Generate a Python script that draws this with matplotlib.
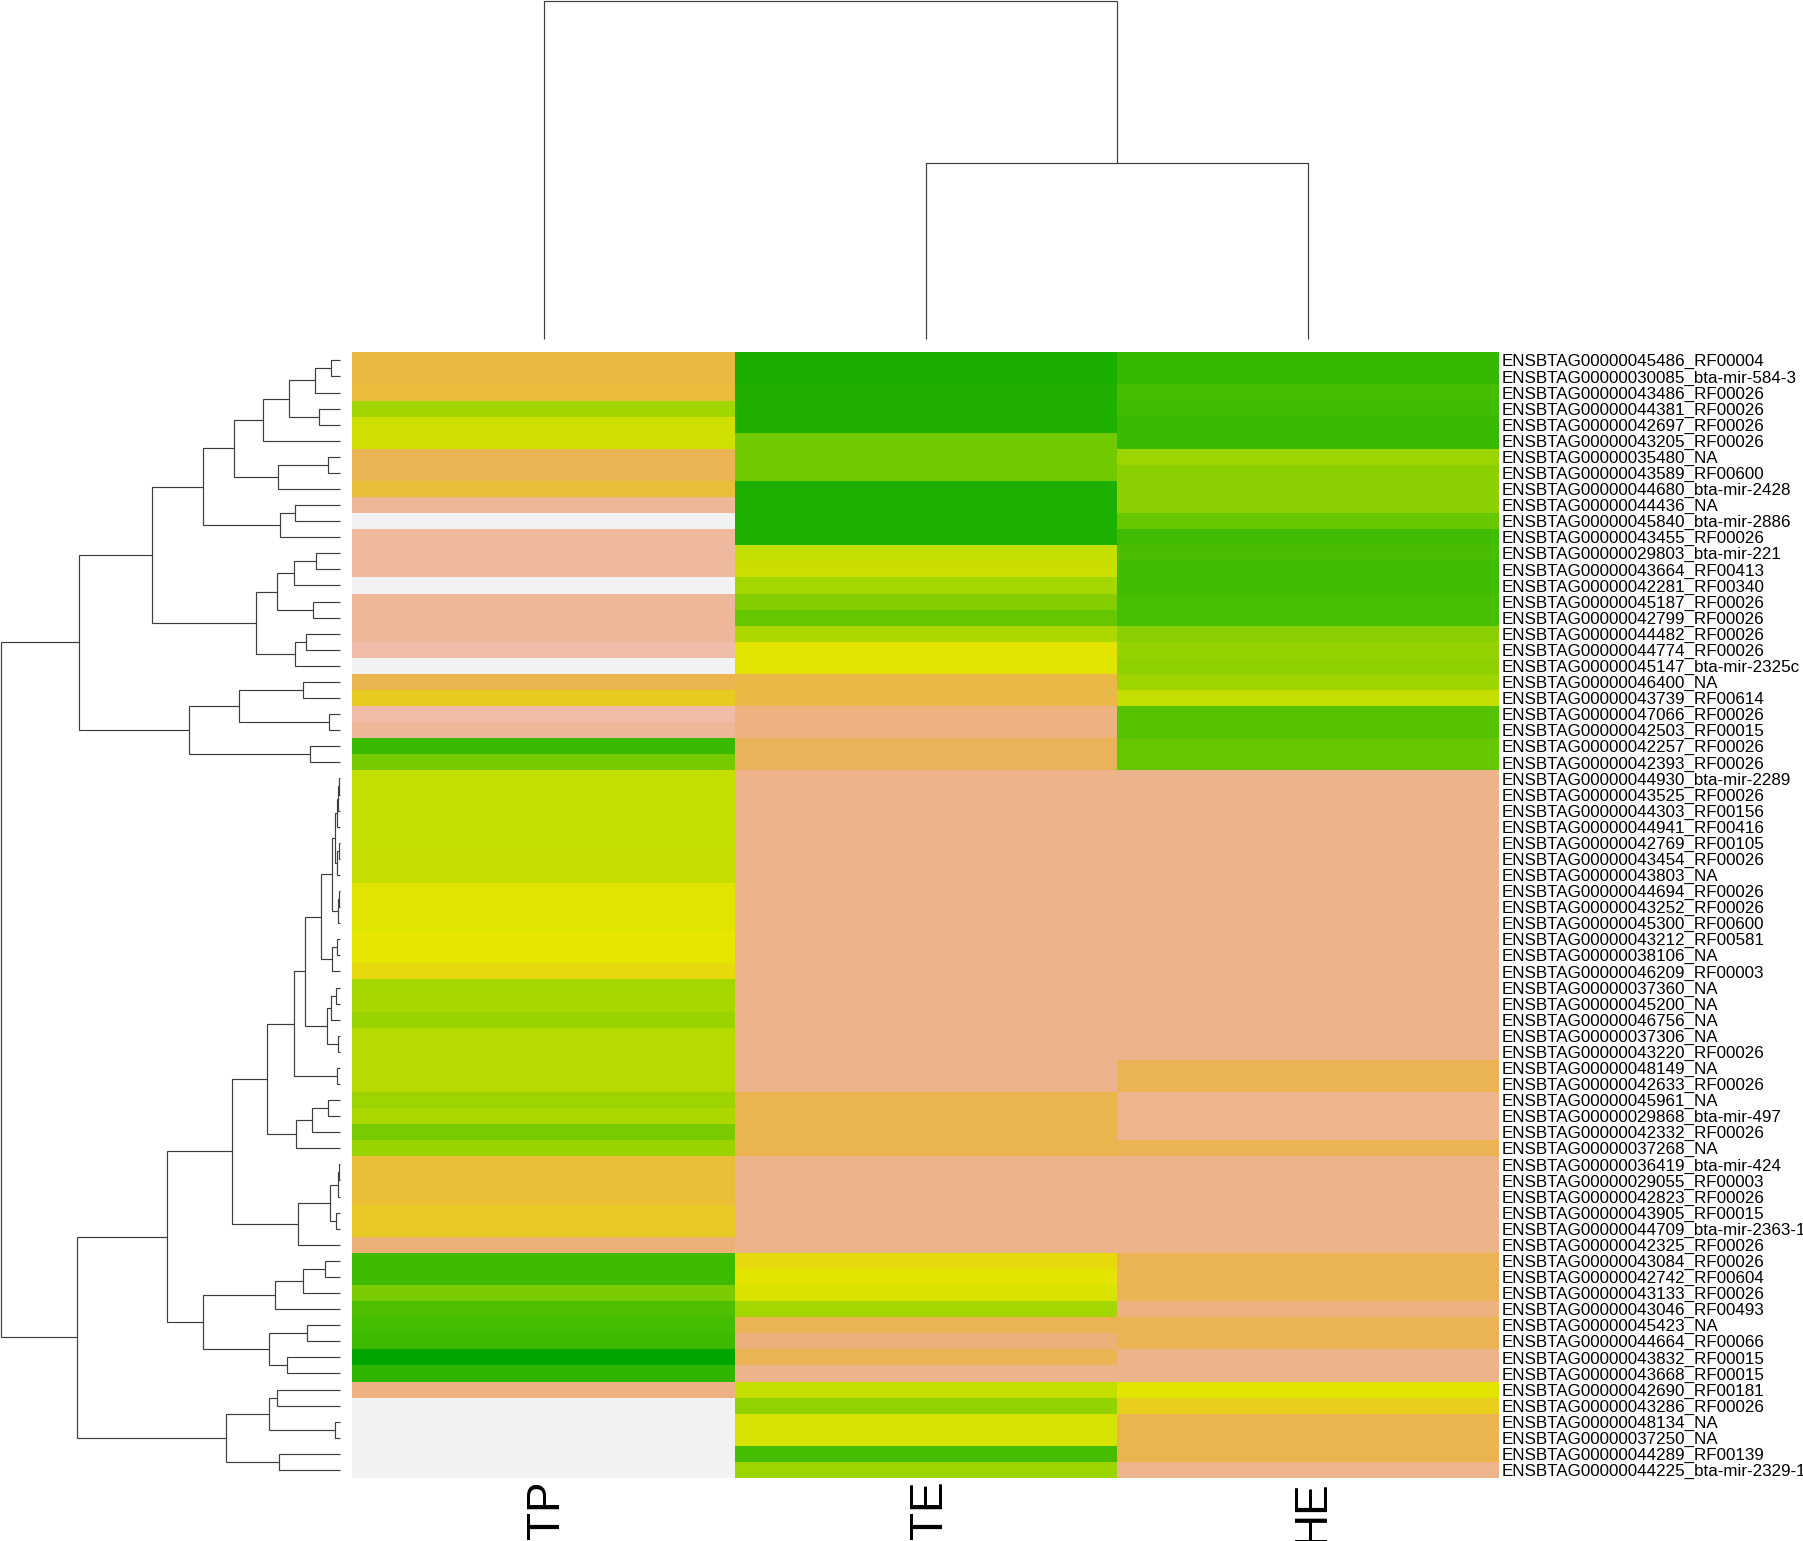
import colorsys
import matplotlib
matplotlib.use("Agg")
import matplotlib.pyplot as plt
from matplotlib.colors import ListedColormap
from matplotlib.transforms import Affine2D

W, H = 1803, 1541

gene_ids = """45486 30085 43486 44381 42697 43205 35480 43589 44680 44436 45840 43455 29803 43664
42281 45187 42799 44482 44774 45147 46400 43739 47066 42503 42257 42393 44930 43525 44303 44941
42769 43454 43803 44694 43252 45300 43212 38106 46209 37360 45200 46756 37306 43220 48149 42633
45961 29868 42332 37268 36419 29055 42823 43905 44709 42325 43084 42742 43133 43046 45423 44664
43832 43668 42690 43286 48134 37250 44289 44225""".split()
gene_names = """RF00004 bta-mir-584-3 RF00026 RF00026 RF00026 RF00026 NA RF00600 bta-mir-2428 NA bta-mir-2886 RF00026
bta-mir-221 RF00413 RF00340 RF00026 RF00026 RF00026 RF00026 bta-mir-2325c NA RF00614 RF00026 RF00015 RF00026 RF00026
bta-mir-2289 RF00026 RF00156 RF00416 RF00105 RF00026 NA RF00026 RF00026 RF00600 RF00581 NA RF00003 NA NA NA NA RF00026
NA RF00026 NA bta-mir-497 RF00026 NA bta-mir-424 RF00003 RF00026 RF00015 bta-mir-2363-1 RF00026 RF00026 RF00604 RF00026
RF00493 NA RF00066 RF00015 RF00015 RF00181 RF00026 NA NA RF00139 bta-mir-2329-1""".split()
row_labels = [f"ENSBTAG000000{i}_{n}" for i, n in zip(gene_ids, gene_names)]
col_labels = ["TP", "TE", "HE"]

tp = [.64,.64,.63,.375,.46,.46,.68,.68,.62,.82,1.0,.83,.83,.83,1.0,.82,.82,.82,.85,1.0,
      .67,.57,.85,.82,.155,.29,.44,.44,.44,.44,.44,.445,.445,.485,.485,.485,.50,.50,.53,.38,
      .39,.36,.416,.416,.416,.416,.366,.396,.294,.36,.62,.62,.62,.58,.58,.75,.165,.165,.298,.205,
      .18,.165,.0,.125,.78,1.0,1.0,1.0,1.0,1.0]
te = [.075,.075,.09,.09,.09,.28,.28,.28,.085,.085,.085,.085,.44,.453,.38,.32,.256,.396,.49,.49,
      .65,.65,.77,.77,.69,.69,.79,.79,.79,.79,.79,.79,.79,.79,.79,.79,.79,.79,.79,.79,
      .79,.79,.79,.79,.79,.79,.67,.67,.67,.67,.79,.79,.79,.79,.79,.79,.53,.495,.48,.38,
      .68,.76,.68,.79,.44,.346,.47,.47,.186,.366]
he = [.145,.145,.18,.17,.155,.155,.365,.335,.335,.335,.265,.17,.195,.17,.17,.19,.19,.33,.355,.34,
      .37,.44,.22,.22,.256,.256,.79,.79,.79,.79,.79,.79,.79,.79,.79,.79,.79,.79,.79,.79,
      .79,.79,.79,.79,.68,.68,.80,.80,.80,.68,.79,.79,.79,.79,.79,.79,.68,.68,.68,.77,
      .68,.68,.79,.79,.495,.56,.67,.67,.67,.80]

# Row tree pieces: [merge height, upper child, lower child]; leaves are row numbers
rows_1_6 = [231, [152, [73, [25, 1, 2], 3], [63, 4, 5]], 6]
rows_7_9 = [186, [36, 7, 8], 9]
rows_10_12 = [178, [133, 10, 11], 12]
rows_1_12 = [409, [318, rows_1_6, rows_7_9], rows_10_12]
rows_13_20 = [250, [187, [138, [70, 13, 14], 15], [79, 16, 17]], [134, [100, 18, 19], 20]]
rows_21_26 = [452, [301, [109, 21, 22], [32, 23, 24]], [89, 25, 26]]
rows_1_26 = [782, [562, rows_1_12, rows_13_20], rows_21_26]

rows_27_33 = [13, [7, [4, [1, 27, 28], 29], 30], [7, [3, 31, 32], 33]]
rows_27_39 = [55, [24, rows_27_33, [4, [2, 34, 35], 36]], [22, [9, 37, 38], 39]]
rows_40_44 = [38, [25, [12, 40, 41], 42], [4, 43, 44]]
rows_27_46 = [137, [103, rows_27_39, rows_40_44], [9, 45, 46]]
rows_47_50 = [132, [83, [34, 47, 48], 49], 50]
rows_51_56 = [124, [28, [4, [2, 51, 52], 53], [10, 54, 55]], 56]
rows_27_56 = [322, [219, rows_27_46, rows_47_50], rows_51_56]
rows_57_64 = [411, [195, [111, [44, 57, 58], 59], 60], [211, [98, 61, 62], [159, 63, 64]]]
rows_65_70 = [340, [212, [187, 65, 66], [14, 67, 68]], [183, 69, 70]]
row_tree = [1017, rows_1_26, [788, [519, rows_27_56, rows_57_64], rows_65_70]]
col_tree = [1.0, 1, [0.52, 2, 3]]

pts = [(1/3, 1.0, .65), (1/6, 1.0, .90), (0.0, 0.0, .95)]
ramp = []
for a, b in zip(pts[:-1], pts[1:]):
    for i in range(128):
        f = i / 127
        ramp.append(colorsys.hsv_to_rgb(*[a[k] + (b[k] - a[k]) * f for k in range(3)]))
terrain_r = ListedColormap(ramp)

plt.rcParams["font.family"] = ["Liberation Sans", "DejaVu Sans"]
fig = plt.figure(figsize=(W / 100, H / 100), dpi=100, facecolor="white")


def axes_px(x0, y0, x1, y1):
    return fig.add_axes([x0 / W, 1 - y1 / H, (x1 - x0) / W, (y1 - y0) / H])


HX0, HX1, HY0, HY1 = 352.3, 1499.5, 352.3, 1478.0
ax = axes_px(HX0, HY0, HX1, HY1)
ax.pcolormesh(range(4), range(len(tp) + 1), list(zip(tp, te, he)),
              cmap=terrain_r, vmin=0, vmax=1, linewidth=0)
ax.set_xlim(0, 3)
ax.set_ylim(len(tp), 0)
for s in ax.spines.values():
    s.set_visible(False)
ax.yaxis.tick_right()
ax.set_yticks([i + .5 for i in range(len(row_labels))], row_labels, fontsize=12.25, color="black")
ax.set_xticks([.5, 1.5, 2.5], col_labels, rotation=90, fontsize=33, color="black")
ax.tick_params(length=0, axis="y", pad=1.5)
ax.tick_params(length=0, axis="x", pad=1.5)
for lab in ax.get_xticklabels():
    lab.set_transform(lab.get_transform() + Affine2D().translate(4, 0))


def draw(node, target, vertical):
    """Draw a node's branches and return its position and height."""
    if isinstance(node, int):
        return node - .5, 0.0
    h, a, b = node
    pa, ha = draw(a, target, vertical)
    pb, hb = draw(b, target, vertical)
    xs, ys = [ha, h, h, hb], [pa, pa, pb, pb]
    if vertical:
        xs, ys = ys, xs
    target.plot(xs, ys, color="#3d3d3d", lw=0.85, solid_joinstyle="miter",
                solid_capstyle="butt", clip_on=False)
    return (pa + pb) / 2, h


lax = axes_px(0, HY0, 339.67, HY1)
draw(row_tree, lax, False)
lax.set_xlim(1019, 0)
lax.set_ylim(len(tp), 0)
lax.axis("off")

tax = axes_px(HX0, 0.5, HX1, 339)
draw(col_tree, tax, True)
tax.set_xlim(0, 3)
tax.set_ylim(0, 1)
tax.axis("off")

fig.savefig("out.png", dpi=100, facecolor="white")
